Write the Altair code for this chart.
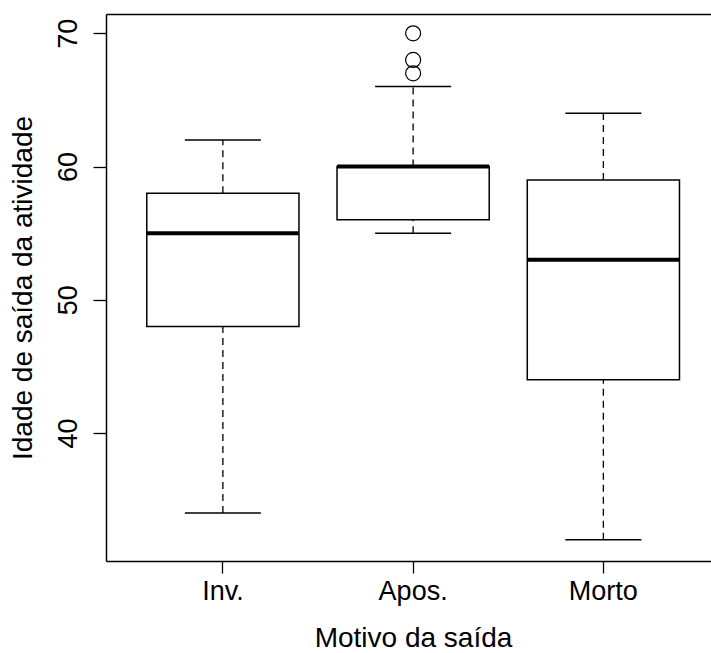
import altair as alt
import pandas as pd

categories = ["Inv.", "Apos.", "Morto"]
lower_whisker = [34, 55, 32]
q1 = [48, 56, 44]
median = [55, 60, 53]
q3 = [58, 60, 59]
upper_whisker = [62, 66, 64]

outlier_cat = ["Apos.", "Apos.", "Apos."]
outlier_val = [67, 68, 70]

y_ticks = [40, 50, 60, 70]

stats = pd.DataFrame({
    "cat": categories, "lo": lower_whisker, "q1": q1,
    "med": median, "q3": q3, "hi": upper_whisker,
})
outl = pd.DataFrame({"cat": outlier_cat, "val": outlier_val})

FONT = "Liberation Sans"
LFS = 27
TFS = 28

xscale = alt.Scale(domain=categories, paddingInner=0.2, paddingOuter=0.19, align=0.564)
yscale = alt.Scale(domain=[30.4, 71.45], nice=False, zero=False)

x_bottom = alt.X("cat:N", scale=xscale, sort=categories,
                 axis=alt.Axis(title="Motivo da saída", labelAngle=0, tickSize=12,
                               labelPadding=5, titlePadding=20, titleX=307, orient="bottom"))
x_none = alt.X("cat:N", scale=xscale, sort=categories, axis=None)
x_top = alt.X("cat:N", scale=xscale, sort=categories,
              axis=alt.Axis(orient="top", labels=False, ticks=False, title=None, domain=True))

y_axis = alt.Axis(title="Idade de saída da atividade", values=y_ticks, labelAngle=270,
                  tickSize=13, labelPadding=11, titlePadding=17, grid=False)

base = alt.Chart(stats)

whisk_up = base.mark_rule(color="black", strokeWidth=1.3, strokeDash=[7, 5]).encode(
    x=x_none, y=alt.Y("q3:Q", scale=yscale, axis=y_axis), y2="hi:Q")
whisk_lo = base.mark_rule(color="black", strokeWidth=1.3, strokeDash=[7, 5]).encode(
    x=x_none, y=alt.Y("lo:Q", scale=yscale), y2="q1:Q")
cap_hi = base.mark_tick(color="black", size=76, thickness=1.5, opacity=1).encode(
    x=x_none, y=alt.Y("hi:Q", scale=yscale))
cap_lo = base.mark_tick(color="black", size=76, thickness=1.5, opacity=1).encode(
    x=x_none, y=alt.Y("lo:Q", scale=yscale))
boxes = base.mark_bar(fill="white", stroke="black", strokeWidth=1.5, opacity=1).encode(
    x=x_bottom, y=alt.Y("q1:Q", scale=yscale), y2="q3:Q")
meds = base.mark_tick(color="black", size=152, thickness=4, opacity=1).encode(
    x=x_none, y=alt.Y("med:Q", scale=yscale))
pts = alt.Chart(outl).mark_point(shape="circle", filled=False, color="black",
                                 size=225, strokeWidth=1.2, opacity=1).encode(
    x=x_top, y=alt.Y("val:Q", scale=yscale))

chart = alt.layer(whisk_up, whisk_lo, cap_hi, cap_lo, boxes, meds, pts).resolve_axis(
    x="independent"
).properties(
    width=605, height=547,
    background="white",
    autosize=alt.AutoSizeParams(type="none"),
    padding={"left": 106, "top": 14, "right": 0, "bottom": 92},
).configure_view(stroke=None).configure_axis(
    labelFont=FONT, titleFont=FONT, labelFontSize=LFS, titleFontSize=TFS,
    labelColor="black", titleColor="black", titleFontWeight="normal",
    domainColor="black", tickColor="black", domainWidth=1.5, tickWidth=1.3,
)

chart.save("out.html", embed_options={"renderer": "svg", "actions": False})
